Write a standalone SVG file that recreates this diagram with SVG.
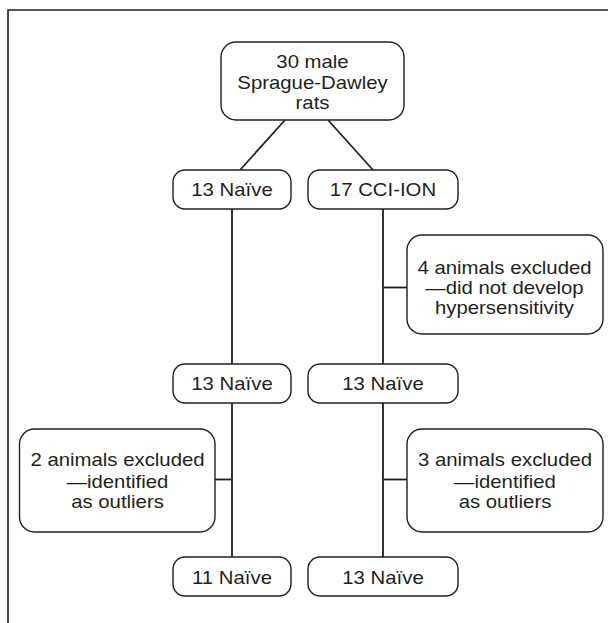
<svg xmlns="http://www.w3.org/2000/svg" width="608" height="623" viewBox="0 0 608 623">
<style>
.box{fill:#fff;stroke:#231f20;stroke-width:1.4}
.ln{stroke:#231f20;stroke-width:1.8;fill:none}
.t{font-family:"Liberation Sans",Arial,Helvetica,sans-serif;font-size:17.7px;fill:#231f20;text-anchor:middle}
</style>
<rect width="608" height="623" fill="#fff"/>
<path d="M8 623 V10 H608" fill="none" stroke="#231f20" stroke-width="1.6"/>
<g id="connectors">
<line class="ln" x1="285" y1="120" x2="240" y2="170"/>
<line class="ln" x1="328" y1="120" x2="373" y2="170"/>
<line class="ln" x1="232" y1="209" x2="232" y2="364"/>
<line class="ln" x1="383" y1="209" x2="383" y2="364"/>
<line class="ln" x1="383" y1="287.5" x2="407" y2="287.5"/>
<line class="ln" x1="232" y1="403" x2="232" y2="557"/>
<line class="ln" x1="383" y1="403" x2="383" y2="557"/>
<line class="ln" x1="215" y1="479.5" x2="232" y2="479.5"/>
<line class="ln" x1="383" y1="479.5" x2="407" y2="479.5"/>
</g>
<g id="n_rats">
<rect class="box" x="221" y="42" width="183" height="78" rx="15"/>
<text class="t" transform="translate(312.5 0) scale(1.15 1)" x="0" y="68">30 male</text>
<text class="t" transform="translate(312.5 0) scale(1.15 1)" x="0" y="89">Sprague-Dawley</text>
<text class="t" transform="translate(312.5 0) scale(1.15 1)" x="0" y="109.5">rats</text>
</g>
<g id="n_naive1">
<rect class="box" x="173" y="170" width="118" height="39" rx="12"/>
<text class="t" transform="translate(232 0) scale(1.15 1)" x="0" y="196.5">13 Naïve</text>
</g>
<g id="n_cci">
<rect class="box" x="308" y="170" width="150" height="39" rx="12"/>
<text class="t" transform="translate(383 0) scale(1.15 1)" x="0" y="196.5">17 CCI-ION</text>
</g>
<g id="n_excl1">
<rect class="box" x="407" y="235" width="196" height="99" rx="15"/>
<text class="t" transform="translate(504.5 0) scale(1.15 1)" x="0" y="274.5">4 animals excluded</text>
<text class="t" transform="translate(504.5 0) scale(1.15 1)" x="0" y="294.5">—did not develop</text>
<text class="t" transform="translate(504.5 0) scale(1.15 1)" x="0" y="314.5">hypersensitivity</text>
</g>
<g id="n_naive2">
<rect class="box" x="173" y="364" width="118" height="39" rx="12"/>
<text class="t" transform="translate(232 0) scale(1.15 1)" x="0" y="390.5">13 Naïve</text>
</g>
<g id="n_naive3">
<rect class="box" x="308" y="364" width="150" height="39" rx="12"/>
<text class="t" transform="translate(383 0) scale(1.15 1)" x="0" y="390.5">13 Naïve</text>
</g>
<g id="n_excl2">
<rect class="box" x="19.5" y="429" width="195.5" height="103" rx="15"/>
<text class="t" transform="translate(117.5 0) scale(1.15 1)" x="0" y="466.5">2 animals excluded</text>
<text class="t" transform="translate(117.5 0) scale(1.15 1)" x="0" y="488">—identified</text>
<text class="t" transform="translate(117.5 0) scale(1.15 1)" x="0" y="508.5">as outliers</text>
</g>
<g id="n_excl3">
<rect class="box" x="407" y="429" width="196" height="103" rx="15"/>
<text class="t" transform="translate(505 0) scale(1.15 1)" x="0" y="466.5">3 animals excluded</text>
<text class="t" transform="translate(505 0) scale(1.15 1)" x="0" y="488">—identified</text>
<text class="t" transform="translate(505 0) scale(1.15 1)" x="0" y="508.5">as outliers</text>
</g>
<g id="n_naive4">
<rect class="box" x="173" y="557" width="118" height="39" rx="12"/>
<text class="t" transform="translate(232 0) scale(1.15 1)" x="0" y="584.5">11 Naïve</text>
</g>
<g id="n_naive5">
<rect class="box" x="308" y="557" width="150" height="39" rx="12"/>
<text class="t" transform="translate(383 0) scale(1.15 1)" x="0" y="584.5">13 Naïve</text>
</g>
</svg>
